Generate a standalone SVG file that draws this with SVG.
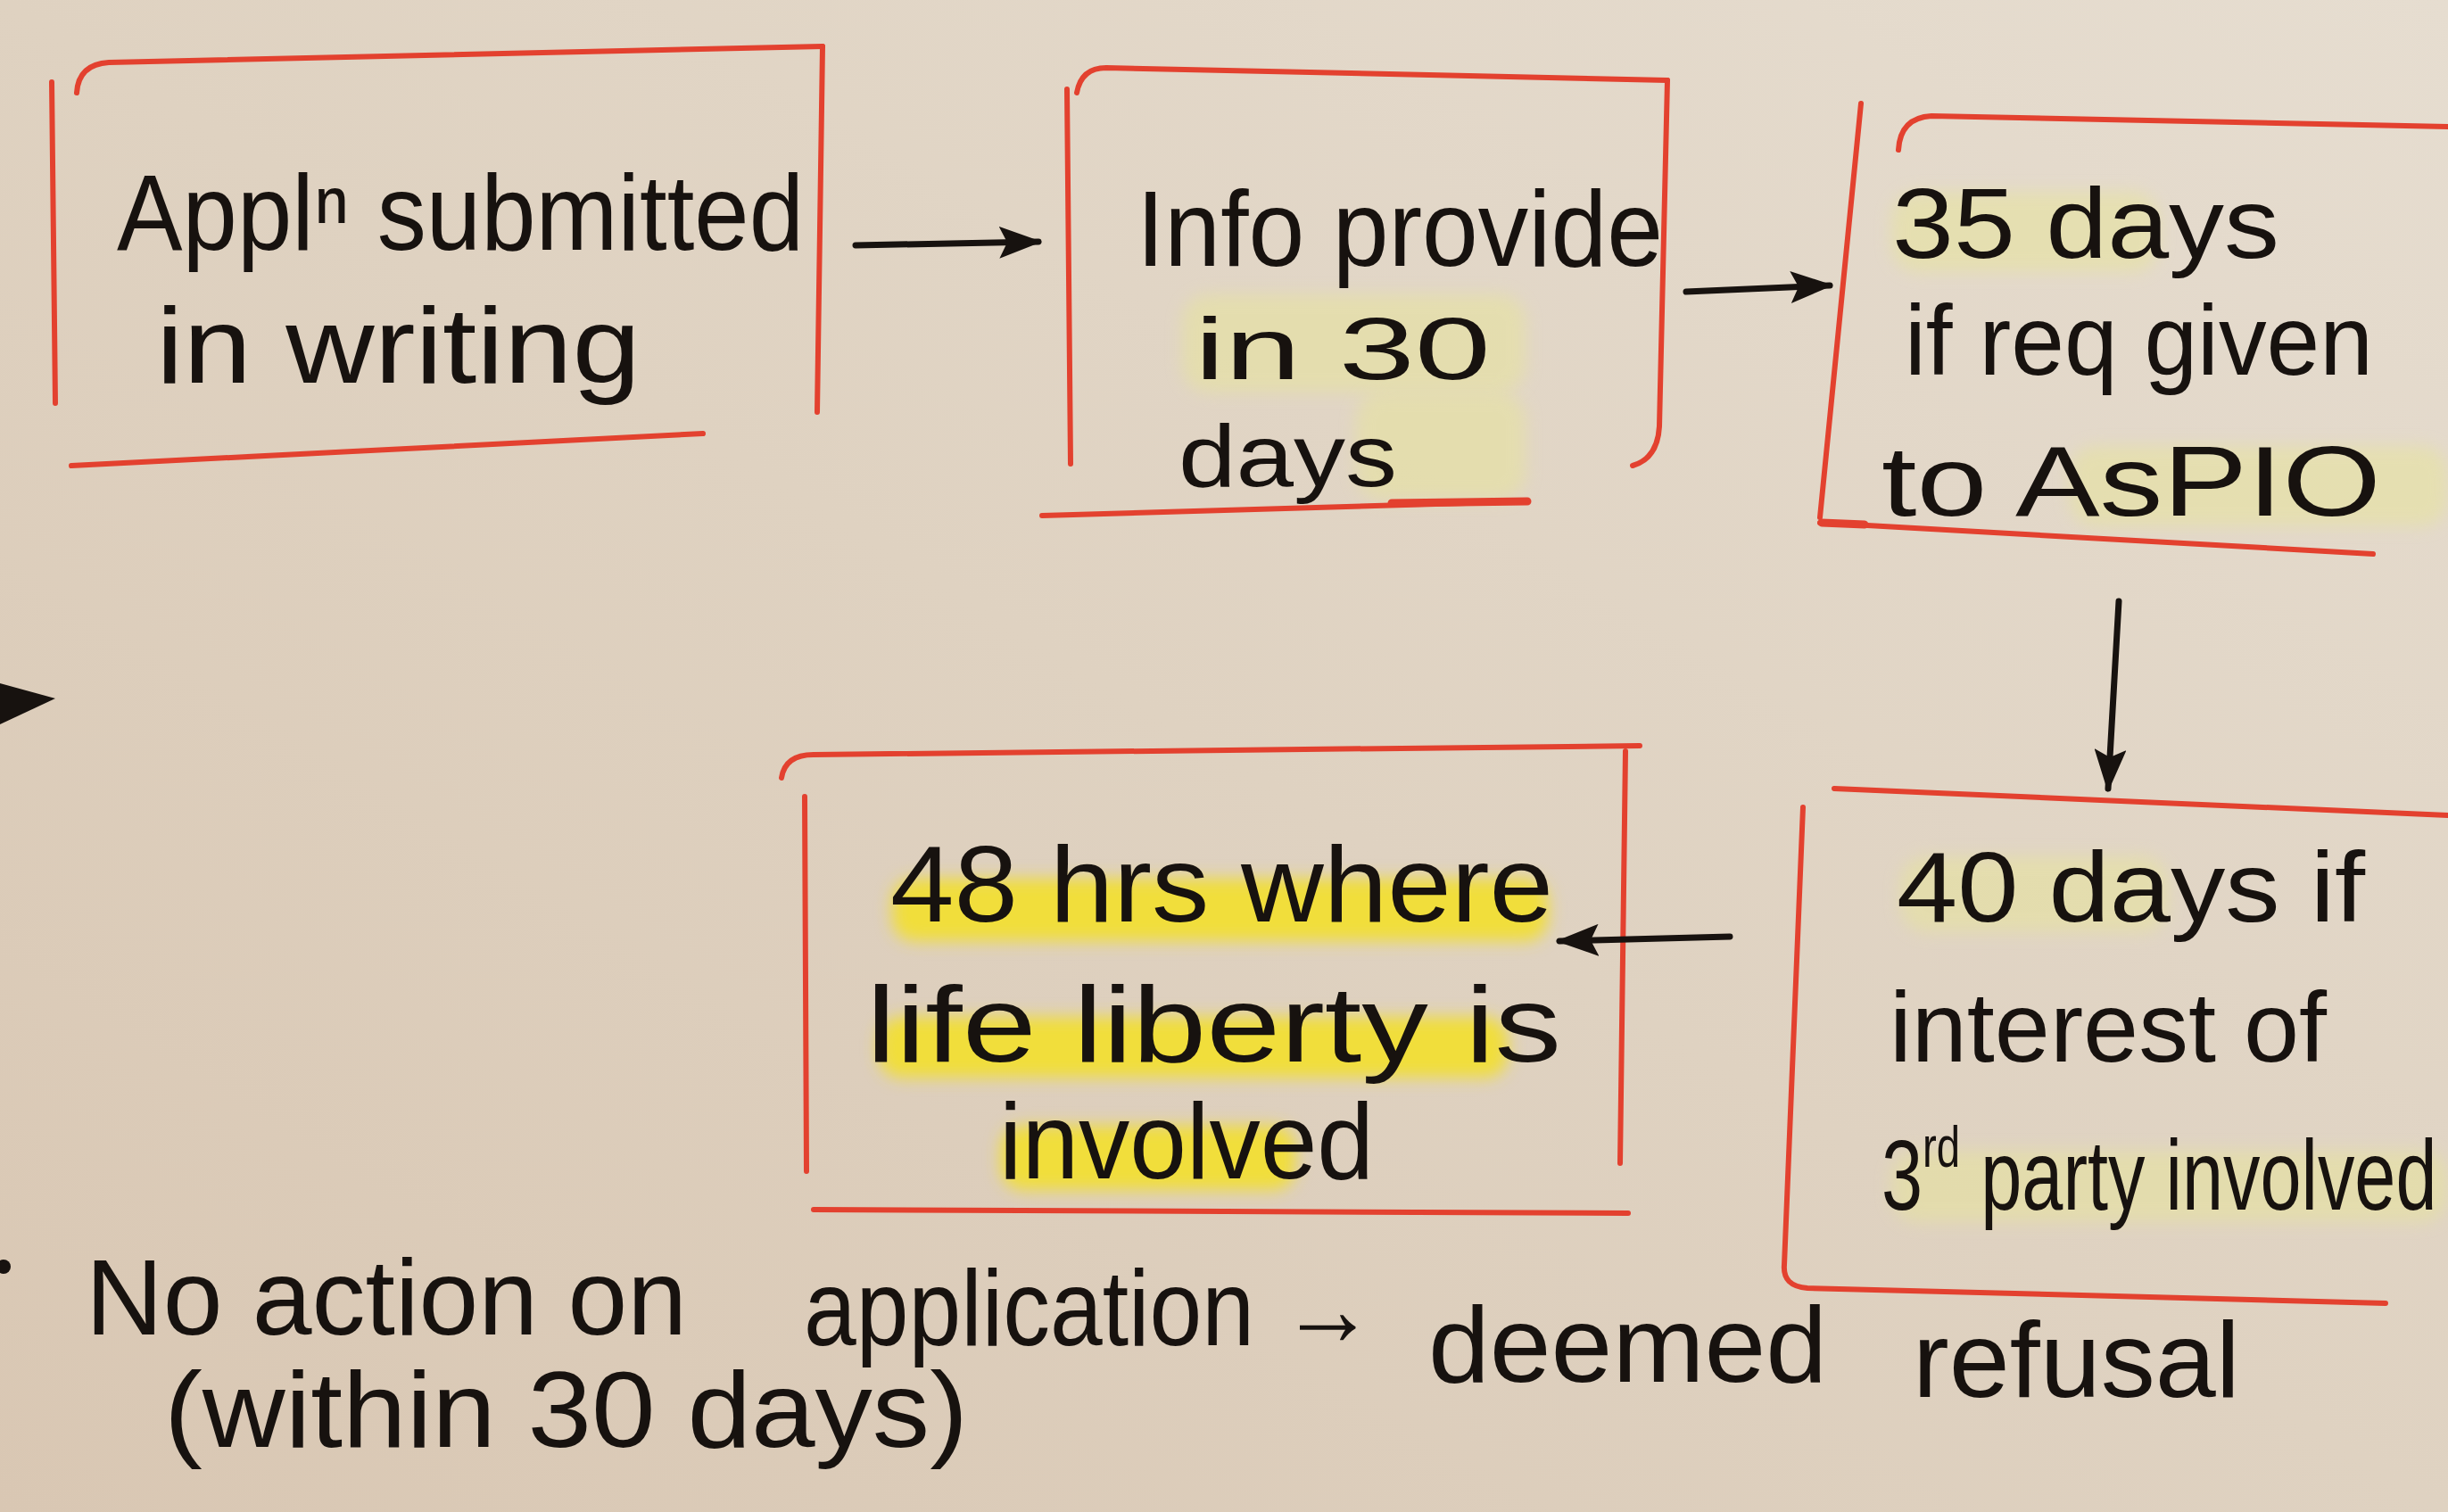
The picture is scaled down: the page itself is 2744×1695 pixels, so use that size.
<svg xmlns="http://www.w3.org/2000/svg" width="2744" height="1695" viewBox="0 0 2744 1695">
<defs>
<linearGradient id="bg" x1="0" y1="1" x2="1" y2="0">
<stop offset="0" stop-color="#d9c7b3"/>
<stop offset="0.5" stop-color="#dfd2c1"/>
<stop offset="1" stop-color="#e6ddd0"/>
</linearGradient>
<filter id="soft" x="-20%" y="-50%" width="140%" height="200%">
<feGaussianBlur stdDeviation="9"/>
</filter>
<marker id="ah" viewBox="0 0 48 36" refX="44" refY="18" markerWidth="48" markerHeight="36" markerUnits="userSpaceOnUse" orient="auto">
<path d="M0,0 L48,18 L0,36 L9,18 Z" fill="#17120f"/>
</marker>
</defs>
<style>
.frame{fill:none;stroke:#e3412f;stroke-width:6;stroke-linecap:round;stroke-linejoin:round}
.thick{stroke-width:9}
.txt{font-family:"Liberation Sans","DejaVu Sans",sans-serif;font-size:120px;fill:#17120f}
.sm{font-size:112px}
.xs{font-size:98px}
.hl{fill:#f1de3a;filter:url(#soft)}
.pale{fill:#e7e49c;opacity:0.55;filter:url(#soft)}
.conn{fill:none;stroke:#17120f;stroke-width:7;stroke-linecap:round}
</style>
<rect x="0" y="0" width="2744" height="1695" fill="url(#bg)"/>

<g id="node-application">
<path class="frame" d="M86,104 Q88,72 122,70 L922,52"/>
<path class="frame" d="M922,52 L916,462"/>
<path class="frame" d="M58,92 L62,452"/>
<path class="frame" d="M80,522 L788,486"/>
<text class="txt"><tspan x="131" y="280" textLength="770" lengthAdjust="spacingAndGlyphs">Applⁿ submitted</tspan><tspan x="175" y="429" textLength="543" lengthAdjust="spacingAndGlyphs">in writing</tspan></text>
</g>

<g id="node-30days">
<rect class="pale" x="1325" y="330" width="385" height="110" rx="30"/>
<rect class="pale" x="1520" y="440" width="190" height="120" rx="30"/>
<path class="frame" d="M1207,104 Q1212,76 1240,76 L1869,90"/>
<path class="frame" d="M1869,90 L1860,478 Q1858,514 1830,522"/>
<path class="frame" d="M1196,100 L1200,520"/>
<path class="frame" d="M1168,578 L1712,562"/>
<path class="frame thick" d="M1560,564 L1712,562"/>
<text class="txt"><tspan x="1274" y="298" textLength="590" lengthAdjust="spacingAndGlyphs">Info provide</tspan></text>
<text class="txt xs"><tspan x="1339" y="425" textLength="332" lengthAdjust="spacingAndGlyphs">in 30</tspan><tspan x="1321" y="545" textLength="245" lengthAdjust="spacingAndGlyphs">days</tspan></text>
</g>

<g id="node-35days">
<rect class="pale" x="2120" y="215" width="300" height="90" rx="30"/>
<rect class="pale" x="2320" y="500" width="424" height="90" rx="30"/>
<path class="frame" d="M2128,168 Q2130,132 2165,130 L2744,142"/>
<path class="frame" d="M2086,116 L2040,580"/>
<path class="frame" d="M2040,586 L2660,621"/>
<path class="frame thick" d="M2042,586 L2090,588"/>
<text class="txt sm"><tspan x="2121" y="289" textLength="434" lengthAdjust="spacingAndGlyphs">35 days</tspan><tspan x="2135" y="420" textLength="525" lengthAdjust="spacingAndGlyphs">if req given</tspan><tspan x="2109" y="578" textLength="560" lengthAdjust="spacingAndGlyphs">to AsPIO</tspan></text>
</g>

<g id="node-40days">
<rect class="pale" x="2130" y="960" width="300" height="85" rx="30"/>
<rect class="pale" x="2120" y="1290" width="624" height="80" rx="30"/>
<path class="frame" d="M2056,884 L2744,914"/>
<path class="frame" d="M2021,905 L2000,1418 Q1998,1442 2026,1444 L2674,1461"/>
<text class="txt sm"><tspan x="2126" y="1033" textLength="525" lengthAdjust="spacingAndGlyphs">40 days if</tspan><tspan x="2118" y="1190" textLength="490" lengthAdjust="spacingAndGlyphs">interest of</tspan></text>
<text class="txt sm" transform="translate(2109,1356) scale(0.74,1)" x="0" y="0">3<tspan font-size="64" dy="-48">rd</tspan><tspan dy="48"> party involved</tspan></text>
</g>

<g id="node-48hrs">
<rect class="hl" x="1000" y="985" width="735" height="70" rx="25"/>
<rect class="hl" x="985" y="1140" width="705" height="68" rx="25"/>
<rect class="hl" x="1122" y="1262" width="330" height="72" rx="25"/>
<path class="frame" d="M876,872 Q880,846 912,846 L1838,836"/>
<path class="frame" d="M1822,842 L1816,1304"/>
<path class="frame" d="M902,893 L904,1313"/>
<path class="frame" d="M912,1356 L1825,1360"/>
<text class="txt"><tspan x="998" y="1033" textLength="743" lengthAdjust="spacingAndGlyphs">48 hrs where</tspan><tspan x="971" y="1190" textLength="779" lengthAdjust="spacingAndGlyphs">life liberty is</tspan><tspan x="1120" y="1321" textLength="420" lengthAdjust="spacingAndGlyphs">involved</tspan></text>
</g>

<g id="note-refusal">
<circle cx="4" cy="1420" r="8" fill="#17120f"/>
<text class="txt"><tspan x="96" y="1496" textLength="674" lengthAdjust="spacingAndGlyphs">No action on</tspan><tspan x="901" y="1508" textLength="640" lengthAdjust="spacingAndGlyphs">application →</tspan><tspan x="1601" y="1549" textLength="447" lengthAdjust="spacingAndGlyphs">deemed</tspan><tspan x="2144" y="1566" textLength="367" lengthAdjust="spacingAndGlyphs">refusal</tspan><tspan x="184" y="1622" textLength="901" lengthAdjust="spacingAndGlyphs">(within 30 days)</tspan></text>
</g>

<g id="connectors">
<path class="conn" d="M959,275 L1164,271" marker-end="url(#ah)"/>
<path class="conn" d="M1890,327 L2051,320" marker-end="url(#ah)"/>
<path class="conn" d="M2375,674 L2363,884" marker-end="url(#ah)"/>
<path class="conn" d="M1939,1050 L1748,1055" marker-end="url(#ah)"/>
<path d="M0,766 L62,783 L0,812 Z" fill="#17120f"/>
</g>
</svg>
